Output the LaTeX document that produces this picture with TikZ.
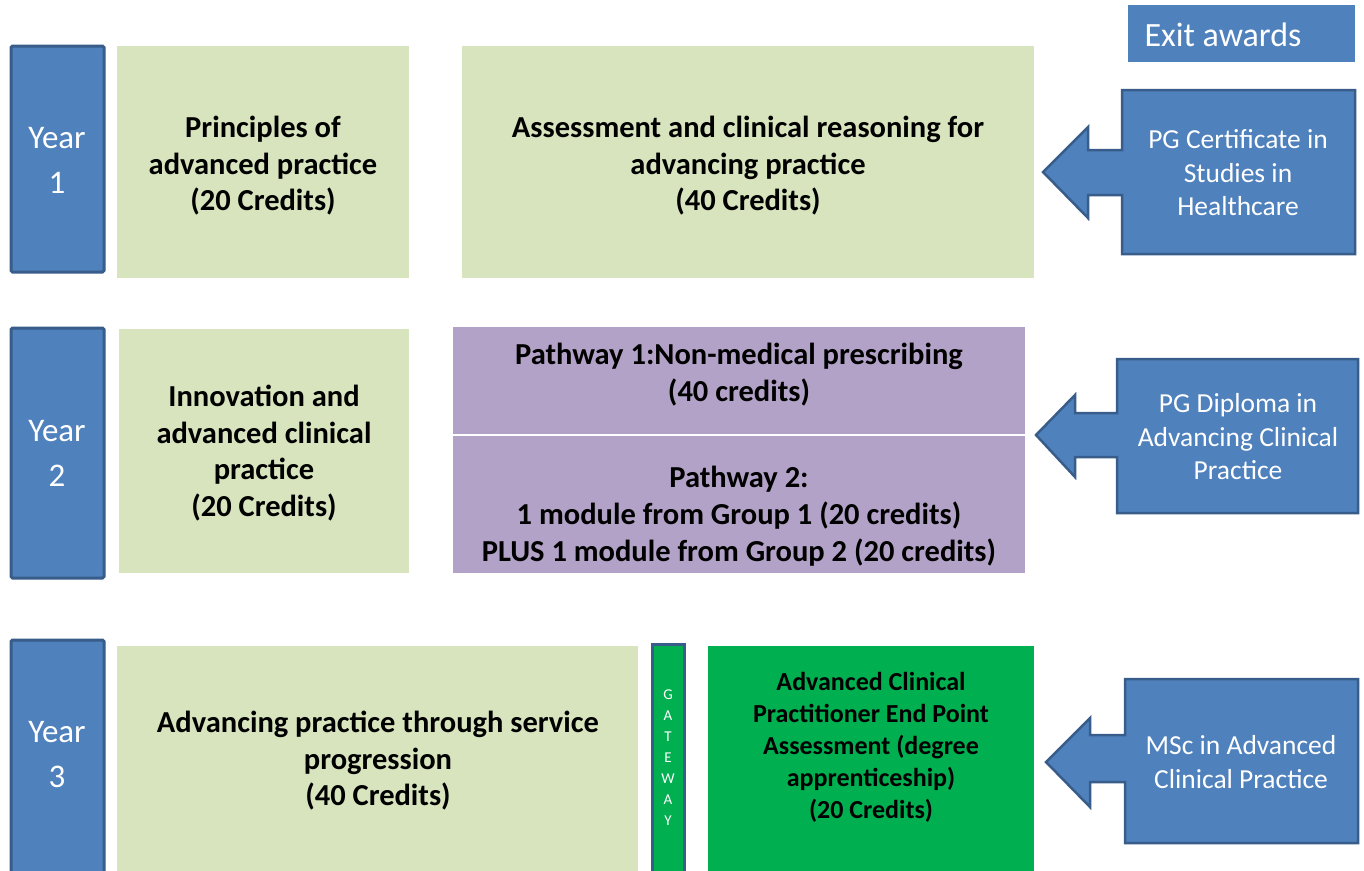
\documentclass[tikz,border=0pt]{standalone}
\usepackage{fontspec}
\setmainfont{Carlito}
\definecolor{bluefill}{HTML}{4F81BD}
\definecolor{blueline}{HTML}{385D8A}
\definecolor{lightgreen}{HTML}{D7E4BD}
\definecolor{purplefill}{HTML}{B3A2C7}
\definecolor{brightgreen}{HTML}{00B050}
\tikzset{
  yearbox/.style={draw=blueline, line width=3pt, fill=bluefill, rounded corners=1.5pt},
  yeartext/.style={text=white, align=center, font=\fontsize{33}{45}\selectfont},
  modbox/.style={fill=lightgreen},
  modtext/.style={align=center, font=\fontsize{30.5}{36.5}\selectfont\bfseries},
  pathtext/.style={align=center, font=\fontsize{30.5}{37}\selectfont\bfseries},
  awardshape/.style={draw=blueline, line width=2.5pt, fill=bluefill, line join=miter},
  awardtext/.style={text=white, align=center, font=\fontsize{27.5}{33.5}\selectfont},
}
\begin{document}
\begin{tikzpicture}[x=1pt,y=-1pt]
\clip (0,0) rectangle (1364,870);
\fill[white] (0,0) rectangle (1364,870);

% Exit awards
\fill[bluefill] (1128,5) rectangle (1355,62);
\node[text=white, font=\fontsize{34}{40}\selectfont] (exit) at (1223,35) {Exit awards};

% Year boxes
\draw[yearbox] (11,46) rectangle (104,272);
\node[yeartext] (y1) at (57,160) {Year\\1};
\draw[yearbox] (11,328) rectangle (104,578);
\node[yeartext] (y2) at (57,453) {Year\\2};
\draw[yearbox] (11,640) rectangle (104,890);
\node[yeartext] (y3) at (57,755) {Year\\3};

% Year 1 modules
\fill[modbox] (117,46) rectangle (409,278);
\node[modtext] (m1) at (263,166) {Principles of\\advanced practice\\(20 Credits)};
\fill[modbox] (462,46) rectangle (1034,278);
\node[modtext] (m2) at (748,166) {Assessment and clinical reasoning for\\advancing practice\\(40 Credits)};

% Year 2 modules
\fill[modbox] (119,329) rectangle (409,573);
\node[modtext] (m3) at (264,453) {Innovation and\\advanced clinical\\practice\\(20 Credits)};
\fill[purplefill] (453,327) rectangle (1025,573);
\draw[white, line width=1.5pt] (453,435) -- (1025,435);
\node[pathtext] (pw1) at (739,375) {Pathway 1:Non-medical prescribing\\(40 credits)};
\node[pathtext] (pw2) at (739,516) {Pathway 2:\\1 module from Group 1 (20 credits)\\PLUS 1 module from Group 2 (20 credits)};

% Year 3 modules
\fill[modbox] (117,646) rectangle (638,890);
\node[modtext] (m4) at (378,761) {Advancing practice through service\\progression\\(40 Credits)};
\draw[draw=blueline, line width=3pt, fill=brightgreen] (652,644) rectangle (684,890);
\node[text=white, align=center, font=\fontsize{15}{21}\selectfont] (gw) at (668,758) {G\\A\\T\\E\\W\\A\\Y};
\fill[brightgreen] (708,646) rectangle (1034,890);
\node[align=center, font=\fontsize{26}{32}\selectfont\bfseries] (m5) at (871,747) {Advanced Clinical\\Practitioner End Point\\Assessment (degree\\apprenticeship)\\(20 Credits)};

% Award callouts
\draw[awardshape] (1355,90) -- (1122,90) -- (1122,150) -- (1088,150) -- (1088,127) -- (1043,172)
  -- (1088,218) -- (1088,195) -- (1122,195) -- (1122,254) -- (1355,254) -- cycle;
\node[awardtext] (a1) at (1238,173) {PG Certificate in\\Studies in\\Healthcare};

\draw[awardshape] (1358,359) -- (1117,359) -- (1117,413) -- (1075,413) -- (1075,395) -- (1036,435)
  -- (1075,477) -- (1075,457) -- (1117,457) -- (1117,513) -- (1358,513) -- cycle;
\node[awardtext] (a2) at (1238,437) {PG Diploma in\\Advancing Clinical\\Practice};

\draw[awardshape] (1358,679) -- (1125,679) -- (1125,735) -- (1090,735) -- (1090,718) -- (1046,762)
  -- (1090,807) -- (1090,782) -- (1125,782) -- (1125,843) -- (1358,843) -- cycle;
\node[awardtext] (a3) at (1241,762) {MSc in Advanced\\Clinical Practice};

\end{tikzpicture}
\end{document}
